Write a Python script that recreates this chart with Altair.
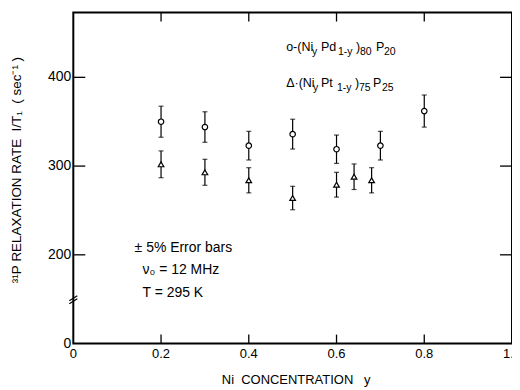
import altair as alt
import pandas as pd

# ---- data ----
pd_x = [0.2, 0.3, 0.4, 0.5, 0.6, 0.7, 0.8]          # (NiyPd1-y)80P20, circles
pd_y = [350, 344, 323, 336, 319, 323, 362]
pt_x = [0.2, 0.3, 0.4, 0.5, 0.6, 0.64, 0.68]        # (NiyPt1-y)75P25, triangles
pt_y = [302, 293, 284, 264, 279, 288, 284]
err_frac = 0.05                                      # +/- 5% error bars
x_tick_values = [0.0, 0.2, 0.4, 0.6, 0.8, 1.0]
x_tick_labels = ["0", "0.2", "0.4", "0.6", "0.8", "1.0"]
x_inner_ticks = [0.2, 0.4, 0.6, 0.8]
y_tick_values = [200, 300, 400]
y_label_values = [100, 200, 300, 400]                # 100 sits below the axis break, shown as "0"
y_label_texts = ["0", "200", "300", "400"]

legend1 = ["o-(Ni", "y", "Pd", "1-y", ")", "80", "P", "20"]
legend2 = ["Δ·(Ni", "y", "Pt", "1-y", ")", "75", "P", "25"]
notes = ["± 5% Error bars", "ν₀ = 12 MHz", "T = 295 K"]
NB = "\u00a0"
x_title = f"Ni{NB}{NB}CONCENTRATION{NB}{NB}{NB}y"
y_title = f"³¹P{NB}RELAXATION{NB}RATE{NB}{NB}I/T₁{NB}{NB}({NB}sec⁻¹{NB})"

# ---- layout ----
W, H = 440, 332
FONT = "Liberation Sans"
xs = alt.Scale(domain=[0, 1], nice=False, zero=False)
ys = alt.Scale(domain=[100, 473], nice=False, zero=False)


def series(xv, yv, shape, size):
    df = pd.DataFrame({"x": xv, "y": yv})
    base = alt.Chart(df).transform_calculate(
        lo=f"datum.y * (1 - {err_frac})", hi=f"datum.y * (1 + {err_frac})")
    X = alt.X("x:Q", scale=xs, axis=None)
    bars = base.mark_rule(color="black", strokeWidth=1.2).encode(
        x=X, y=alt.Y("lo:Q", scale=ys, axis=None), y2="hi:Q")
    cap_lo = base.mark_tick(orient="horizontal", size=5, thickness=1.2, color="black").encode(
        x=X, y=alt.Y("lo:Q", scale=ys, axis=None))
    cap_hi = base.mark_tick(orient="horizontal", size=5, thickness=1.2, color="black").encode(
        x=X, y=alt.Y("hi:Q", scale=ys, axis=None))
    pts = base.mark_point(shape=shape, size=size, filled=True, fill="white", stroke="black",
                          strokeWidth=1.2, opacity=1, fillOpacity=1).encode(
        x=X, y=alt.Y("y:Q", scale=ys, axis=None))
    return [bars, cap_lo, cap_hi, pts]


layers = []
layers += series(pd_x, pd_y, "circle", 30)
layers += series(pt_x, pt_y, "triangle-up", 32)

# inward ticks on all four sides
ydf = pd.DataFrame({"v": y_tick_values})
xdf = pd.DataFrame({"v": x_inner_ticks})
tick_style = dict(color="black", strokeWidth=1.3)
layers.append(alt.Chart(ydf).mark_rule(**tick_style).encode(
    x=alt.value(0), x2=alt.value(12), y=alt.Y("v:Q", scale=ys, axis=None)))
layers.append(alt.Chart(ydf).mark_rule(**tick_style).encode(
    x=alt.value(W - 12), x2=alt.value(W), y=alt.Y("v:Q", scale=ys, axis=None)))
layers.append(alt.Chart(xdf).mark_rule(**tick_style).encode(
    x=alt.X("v:Q", scale=xs, axis=None), y=alt.value(H), y2=alt.value(H - 9)))
layers.append(alt.Chart(xdf).mark_rule(**tick_style).encode(
    x=alt.X("v:Q", scale=xs, axis=None), y=alt.value(0), y2=alt.value(9)))

# tick labels through the scales
xl = pd.DataFrame({"v": x_tick_values, "t": x_tick_labels})
layers.append(alt.Chart(xl).mark_text(font=FONT, fontSize=13, color="black",
                                      align="center", baseline="top").encode(
    x=alt.X("v:Q", scale=xs, axis=None), y=alt.value(H + 4), text="t:N"))
yl = pd.DataFrame({"v": y_label_values, "t": y_label_texts})
layers.append(alt.Chart(yl).mark_text(font=FONT, fontSize=14, color="black",
                                      align="right", baseline="middle").encode(
    y=alt.Y("v:Q", scale=ys, axis=None), x=alt.value(-2), text="t:N"))

# axis break marks "//"
brk = pd.DataFrame({"k": [0]})
layers.append(alt.Chart(brk).mark_rule(color="black", strokeWidth=1.2).encode(
    x=alt.value(-4), x2=alt.value(4), y=alt.value(289), y2=alt.value(284)))
layers.append(alt.Chart(brk).mark_rule(color="black", strokeWidth=1.2).encode(
    x=alt.value(-4), x2=alt.value(4), y=alt.value(292), y2=alt.value(287)))

# legend text with subscripts
seg_x1 = [213.5, 239.5, 248.5, 265.5, 283.5, 287.5, 303.5, 311.5]
seg_x2 = [213.5, 240.5, 248.5, 264.5, 282.5, 286.5, 300.5, 309.5]
seg_sub = [False, True, False, True, False, True, False, True]
rows = []
for t, px, sub in zip(legend1, seg_x1, seg_sub):
    rows.append({"t": t, "px": px, "py": 43 if sub else 39, "s": 10.5 if sub else 12.5})
for t, px, sub in zip(legend2, seg_x2, seg_sub):
    rows.append({"t": t, "px": px, "py": 79 if sub else 75, "s": 10.5 if sub else 12.5})
leg = pd.DataFrame(rows)
layers.append(alt.Chart(leg).mark_text(align="left", baseline="alphabetic", font=FONT,
                                       color="black").encode(
    x=alt.X("px:Q", scale=None), y=alt.Y("py:Q", scale=None),
    size=alt.Size("s:Q", scale=None, legend=None), text="t:N"))

# notes block
ndf = pd.DataFrame({"t": notes, "px": [61.5, 69.5, 69.5], "py": [240, 262, 285]})
layers.append(alt.Chart(ndf).mark_text(align="left", baseline="alphabetic", font=FONT,
                                       fontSize=14, color="black").encode(
    x=alt.X("px:Q", scale=None), y=alt.Y("py:Q", scale=None), text="t:N"))

# axis titles
one = pd.DataFrame({"k": [0]})
layers.append(alt.Chart(one).mark_text(text=x_title, font=FONT, fontSize=13, color="black",
                                       align="center", baseline="middle").encode(
    x=alt.value(223.5), y=alt.value(369)))
layers.append(alt.Chart(one).mark_text(text=y_title, font=FONT, fontSize=13.5, color="black",
                                       align="center", baseline="middle", angle=270).encode(
    x=alt.value(-56.5), y=alt.value(158)))

chart = alt.layer(*layers).properties(
    width=W, height=H,
    autosize=alt.AutoSizeParams(type="none"),
    padding={"left": 65.5, "top": 4, "right": 0, "bottom": 46},
    background="white",
).configure_view(stroke="black", strokeWidth=2)

chart.save("out.html", embed_options={"renderer": "svg", "actions": False})
